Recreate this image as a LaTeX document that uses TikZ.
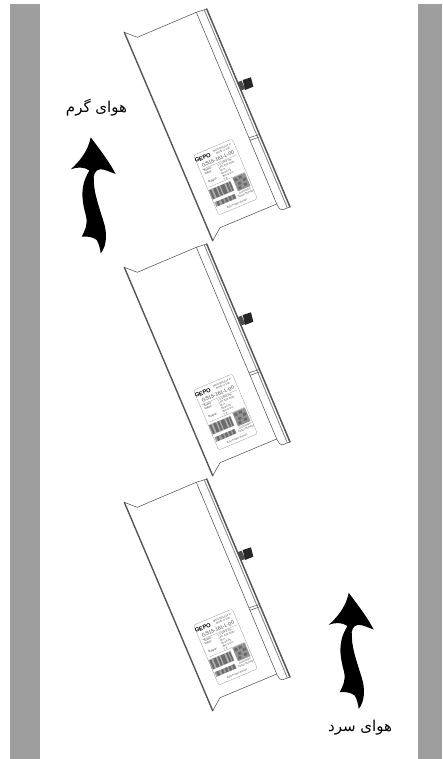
\documentclass[tikz,border=0pt]{standalone}
\usepackage{fontspec}
\setmainfont{Liberation Sans}
\newfontfamily\arabicfont[Script=Arabic]{DejaVu Sans}
\TeXXeTstate=1
\usepackage{xcolor}
\usetikzlibrary{positioning,calc}
\definecolor{wallgray}{HTML}{9E9E9E}
\definecolor{edgegray}{HTML}{555555}
\tikzset{
  wall/.style={fill=wallgray,draw=none},
  caseline/.style={draw=edgegray,line width=0.55pt,line join=round},
  caseedge/.style={draw=edgegray,line width=1.4pt,line cap=round},
  airtext/.style={font=\arabicfont\fontsize{15}{17}\selectfont,inner sep=0pt},
  tagline/.style={inner sep=0pt,text=black!70,font=\fontsize{2.7}{3.1}\selectfont,align=center},
  smudge/.style={fill=black!58,draw=none}
}

\begin{document}
\begin{tikzpicture}[x=1pt,y=-1pt]
  \useasboundingbox (0,0) rectangle (442,759);
  \fill[wall] (10,4) rectangle (40,759);
  \fill[wall] (418,4) rectangle (442,759);

  % three identical units
  \foreach \dy in {0,235,470}{
    \begin{scope}[shift={(0,\dy)}]
      \coordinate (p1) at (124.3,32.3); \coordinate (p2) at (137.3,37.3);
      \coordinate (p3) at (196.3,12.3); \coordinate (p4) at (206.7,9);
      \coordinate (p5) at (290,207); \coordinate (p6) at (280.5,210.5);
      \coordinate (p7) at (276.7,204); \coordinate (p8) at (220,227.7);
      \coordinate (p9) at (212.7,240.7);
      \draw[caseedge] (p9)--(p1);
      \draw[caseline] (p1)--(p2)--(p3)--(p4);
      \draw[caseline] (p7)--(p8)--(p9);
      \draw[caseline] (p3)--(p7);
      \draw[caseline,rounded corners=2pt] (p7)--(p6)--(p5);
      \draw[caseedge,line width=1.5pt] (p4)--(p5);
      \draw[caseline,draw=black!45,line width=0.9pt] (204.3,10)--(287.4,208);
      \draw[caseline] (249.3,137.7)--(258.7,134.7);
      \draw[caseline] (250,140.3)--(259.3,137);
      % connector on the top face
      \fill[black!70] (237.3,82.3)--(241.7,80.7)--(245,89)--(241,90.6)--cycle;
      \fill[black!85] (242.7,80)--(251,77.3)--(253.3,86.7)--(245,90)--cycle;
      % rating plate
      \begin{scope}[shift={(225.5,177)},rotate=22.8,transform shape]
        \node[draw=black!40,line width=0.3pt,rounded corners=2pt,fill=white,minimum width=42pt,minimum height=65pt,inner sep=0pt] (plate\dy) at (0,0) {};
        \node[inner sep=0pt,font=\bfseries\fontsize{5.8}{7}\selectfont] (logo\dy) at (-13.5,-26.5) {GEPO};
        \node[tagline] (maker\dy) at (8,-26.8) {Manufactured in\\Made in Iran};
        \node[inner sep=0pt,text=black!75,font=\fontsize{5}{6}\selectfont] (model\dy) at (0,-19.6) {GS15-161-L-00};
        \draw[black!40,line width=0.25pt] (-19,-16)--(19,-16);
        \node[tagline,anchor=north west,align=left,font=\bfseries\fontsize{2.6}{3}\selectfont] (keys\dy) at (-18,-15) {Power:\\Input:\\[6pt]Output:};
        \node[tagline,anchor=north west,align=left] (vals\dy) at (-3,-15) {1.5 kW/2 HP\\1Ph 220-240V\\16 A\\50-60 Hz\\3Ph 0-Vin\\7 A};
        \draw[black!40,line width=0.25pt] (-19,3)--(19,3);
        % blurred codes
        \fill[black!32] (-21,5.5) rectangle (3,16);
        \foreach \sx/\sw in {-20/2,-16/3,-11.5/2,-8/4,-2/2,1/1.5}{
          \fill[smudge] (\sx,6) rectangle ++(\sw,9.5);
        }
        \fill[black!38] (-20,19) rectangle (2,24);
        \foreach \sx in {-18,-13,-9,-5,-1}{
          \fill[smudge] (\sx,19.3) rectangle ++(2.2,4.4);
        }
        \fill[black!42] (6,3.5) rectangle (19.5,18);
        \foreach \sx/\sy in {7/5,12/4.5,15/8,9/10,14/13,7.5/14}{
          \fill[smudge] (\sx,\sy) rectangle ++(3.2,2.8);
        }
        \node[tagline] (scan\dy) at (12.5,21.8) {Guarantee\\Serial Number};
        \node[tagline] (foot\dy) at (0,29) {Auto Power Reset};
      \end{scope}
    \end{scope}
  }

  % air flow arrows
  \foreach \sx/\sy in {0/0,258/455.5}{
    \fill[black,shift={(\sx,\sy)}] (90.7,137.3)
      .. controls (97,146) and (107,158) .. (115.7,174)
      .. controls (110,172) and (104,169) .. (100,169.3)
      .. controls (95,170) and (93,175) .. (93.8,181)
      .. controls (94,195) and (101,212) .. (105,226.7)
      .. controls (107,237) and (106,247) .. (100.7,253.3)
      .. controls (100,248) and (99,244) .. (96.7,240)
      .. controls (93,237) and (87,236) .. (81.7,236.7)
      .. controls (85,230) and (88,225) .. (86,216)
      .. controls (83,205) and (81.5,196) .. (83,187)
      .. controls (84,180) and (87,175) .. (89.3,170.5)
      .. controls (84,166.5) and (77,167) .. (70.7,169.3)
      .. controls (78,163) and (88,152) .. (90.7,137.3) -- cycle;
  }
  \node[airtext] (warmair) at (96.5,108) {\beginR هوای گرم\endR};
  \node[airtext] (coldair) at (360,728) {\beginR هوای سرد\endR};
\end{tikzpicture}
\end{document}
